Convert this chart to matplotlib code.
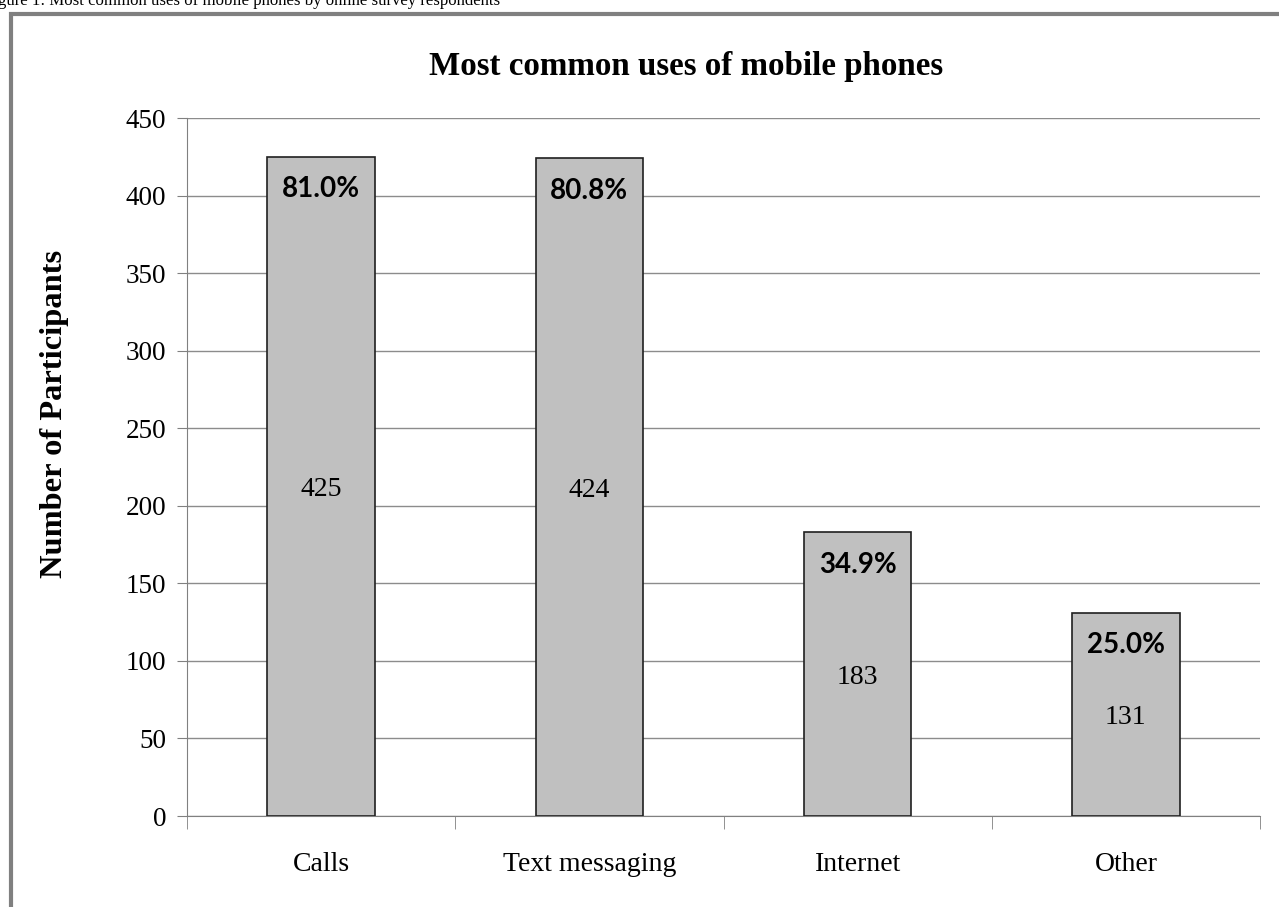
import matplotlib.pyplot as plt
from matplotlib.patches import Rectangle

# Datos del grafico
categorias = ['Calls', 'Text messaging', 'Internet', 'Other']
participantes = [425, 424, 183, 131]
porcentajes = ['81.0%', '80.8%', '34.9%', '25.0%']
y_ticks = list(range(0, 451, 50))

W, H = 1279, 907
fig = plt.figure(figsize=(W / 100, H / 100), dpi=100)
fig.patch.set_facecolor('white')

# Marco gris del grafico
fig.patches.append(Rectangle((11 / W, -0.05), 1.2, 1 - 14 / H + 0.05,
                             transform=fig.transFigure, fill=False,
                             edgecolor='#808080', linewidth=3, zorder=0))

# Pie de figura cortado arriba
fig.text(-16 / W, 1 - 1 / H, 'Figure 1: Most common uses of mobile phones by online survey respondents',
         family='Liberation Serif', fontsize=12.1, ha='left', va='center')

ax = fig.add_axes([187 / W, 1 - 816 / H, (1260 - 187) / W, (816 - 118) / H])

x = list(range(len(categorias)))
ax.bar(x, participantes, width=0.4, color='#c0c0c0', edgecolor='#202020',
       linewidth=1.2, zorder=3)

for i, (v, p) in enumerate(zip(participantes, porcentajes)):
    ax.text(i, v - 21, p, ha='center', va='center', family='Lato',
            fontweight='bold', fontsize=20, zorder=4)
    ax.text(i, v / 2 - 2, str(v), ha='center', va='center',
            family='Liberation Serif', fontsize=20, zorder=4)

ax.set_xlim(-0.5, len(categorias) - 0.5)
ax.set_ylim(0, 450)
ax.set_yticks(y_ticks)
ax.set_yticklabels([str(t) for t in y_ticks], family='Liberation Serif', fontsize=19.5)
ax.set_xticks(x)
ax.set_xticklabels(categorias, family='Liberation Serif', fontsize=20)
ax.tick_params(axis='x', length=0, pad=26)
ax.tick_params(axis='y', length=7, color='#808080', pad=8)

# Separadores de categoria en el eje x
ax.set_xticks([i - 0.5 for i in range(len(categorias) + 1)], minor=True)
ax.tick_params(axis='x', which='minor', length=9, color='#808080')

ax.grid(axis='y', color='#8c8c8c', linewidth=1, zorder=0)
for s in ['top', 'right']:
    ax.spines[s].set_visible(False)
for s in ['left', 'bottom']:
    ax.spines[s].set_color('#808080')

ax.set_ylabel('Number of Participants', family='Liberation Serif',
              fontweight='bold', fontsize=23.4)
ax.yaxis.set_label_coords((52 + 17 - 187) / (1260 - 187), (816 - 414) / (816 - 118))
fig.text(686 / W, 1 - 67 / H, 'Most common uses of mobile phones',
         family='Liberation Serif', fontweight='bold', fontsize=23.8,
         ha='center', va='center')

fig.savefig('out.png', dpi=100)
